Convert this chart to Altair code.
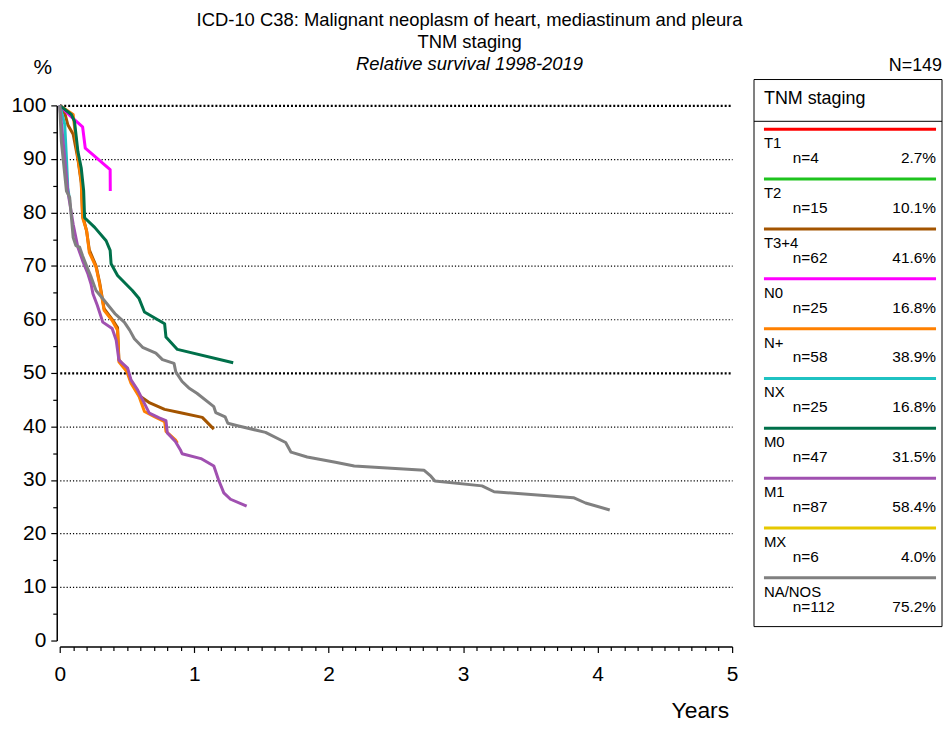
import altair as alt
import pandas as pd

FONT = "Liberation Sans"

# ---- legend data ----
stages = ["T1", "T2", "T3+4", "N0", "N+", "NX", "M0", "M1", "MX", "NA/NOS"]
counts = [4, 15, 62, 25, 58, 25, 47, 87, 6, 112]
pcts = ["2.7%", "10.1%", "41.6%", "16.8%", "38.9%", "16.8%", "31.5%", "58.4%", "4.0%", "75.2%"]
colors = ["#ff0000", "#1ec31e", "#a35400", "#ff00ff", "#ff8000", "#1fc2c2",
          "#00704a", "#a050b0", "#e6c800", "#808080"]

# ---- survival curves (years, relative survival %) ----
t34_t = [0, 0.04, 0.06, 0.1, 0.135, 0.16, 0.17, 0.2, 0.22, 0.27, 0.296, 0.33, 0.39, 0.43,
         0.44, 0.5, 0.53, 0.59, 0.67, 0.78, 0.89, 1.06, 1.146]
t34_v = [100, 98.3, 96.4, 94.6, 90, 85.5, 79.5, 76.5, 73, 70, 67, 62, 60, 58.5,
         52.5, 50.5, 48.5, 45.8, 44.4, 43.2, 42.6, 41.7, 39.5]

n0_t = [0, 0.08, 0.17, 0.19, 0.375, 0.376]
n0_v = [100, 98, 96, 92, 88, 84]

np_t = [0, 0.1, 0.135, 0.16, 0.17, 0.2, 0.22, 0.27, 0.296, 0.33, 0.39, 0.43, 0.44, 0.5,
        0.53, 0.59, 0.63, 0.70, 0.78, 0.79, 0.86, 0.875]
np_v = [100, 98.3, 90.2, 85.9, 79, 76.6, 72.5, 69.8, 66.7, 61.7, 59.8, 58, 52.1, 50.2,
        48.1, 45.6, 42.8, 41.9, 40.9, 39.1, 37.5, 36.9]

nx_t = [0, 0.037, 0.05, 0.06, 0.075]
nx_v = [100, 96.5, 90.2, 84.6, 82]

m0_t = [0, 0.086, 0.11, 0.135, 0.16, 0.178, 0.185, 0.26, 0.345, 0.375, 0.382, 0.43, 0.54,
        0.59, 0.63, 0.78, 0.79, 0.875, 1.29]
m0_v = [100, 98.3, 97, 91.4, 88.3, 84, 79, 77.2, 74.7, 72.9, 70.4, 68.2, 65.4,
        63.9, 61.4, 59.2, 56.7, 54.4, 51.9]

m1_t = [0, 0.03, 0.06, 0.1, 0.135, 0.17, 0.21, 0.234, 0.247, 0.28, 0.32, 0.39, 0.42, 0.44,
        0.505, 0.53, 0.58, 0.666, 0.74, 0.79, 0.8, 0.86, 0.9, 0.91, 1.05, 1.146, 1.18,
        1.22, 1.27, 1.39]
m1_v = [100, 92, 84, 77.8, 73.5, 71, 68.5, 66.5, 64.8, 62.6, 59.5, 58.3, 56.1, 52.4,
        50.9, 48.7, 46.8, 42.5, 41.6, 41.1, 38.8, 37.2, 35.5, 34.9, 34, 32.6, 30.1,
        27.6, 26.4, 25.1]

na_t = [0, 0.012, 0.05, 0.074, 0.1, 0.12, 0.148, 0.17, 0.2, 0.234, 0.27, 0.33, 0.41, 0.48,
        0.52, 0.555, 0.616, 0.715, 0.764, 0.85, 0.863, 0.91, 0.96, 1.02, 1.146, 1.16,
        1.23, 1.25, 1.33, 1.53, 1.68, 1.72, 1.84, 2.05, 2.19, 2.71, 2.76, 2.79, 3.14,
        3.23, 3.82, 3.91, 4.09]
na_v = [100, 93.3, 84, 82.8, 75.3, 73.8, 73.5, 71.9, 70, 67.9, 65.4, 63.6, 61.1, 59.5,
        58, 56.4, 54.8, 53.7, 52.5, 51.8, 50.2, 48.4, 47.2, 46.2, 43.7, 42.6,
        41.8, 40.6, 40.1, 38.9, 37, 35.2, 34.3, 33.3, 32.6, 31.8, 30.7, 29.8, 28.9,
        27.8, 26.7, 25.7, 24.4]

curves = {
    "T3+4": (t34_t, t34_v),
    "N0": (n0_t, n0_v),
    "N+": (np_t, np_v),
    "NX": (nx_t, nx_v),
    "M0": (m0_t, m0_v),
    "M1": (m1_t, m1_v),
    "NA/NOS": (na_t, na_v),
}

x_ticks = [round(i * 0.1, 1) for i in range(51)]
y_ticks = list(range(0, 101, 5))

is_int = "abs(datum.value - round(datum.value)) < 0.001"
x_axis = alt.Axis(
    values=x_ticks, title=None, grid=False, offset=6,
    labelExpr=f"{is_int} ? format(datum.value, 'd') : ''",
    tickSize={"condition": {"test": is_int, "value": 6}, "value": 4},
    labelFontSize=21, labelPadding=11, labelFlush=False, labelOverlap=False,
    labelFont=FONT, labelColor="black", domainColor="black", tickColor="black",
    domainWidth=1.5, tickWidth=1.2,
)
is10 = "datum.value % 10 == 0"
y_axis = alt.Axis(
    values=y_ticks, title=None, offset=3,
    labelExpr=f"{is10} ? datum.label : ''",
    tickSize={"condition": {"test": is10, "value": 6}, "value": 4},
    labelFontSize=21, labelPadding=5, labelOverlap=False, labelFont=FONT,
    labelColor="black", domainColor="black", tickColor="black",
    domainWidth=1.5, tickWidth=1.2,
    grid=True, gridColor="black",
    gridOpacity={"condition": {"test": f"{is10} && datum.value > 0", "value": 1}, "value": 0},
    gridWidth={"condition": {"test": "datum.value == 50 || datum.value == 100", "value": 2.2}, "value": 1.2},
    gridDash={"condition": {"test": "datum.value == 50 || datum.value == 100", "value": [2, 2]}, "value": [1.2, 2]},
)

xs = alt.Scale(domain=[0, 5], nice=False, zero=False)
ys = alt.Scale(domain=[0, 100], nice=False, zero=False)

curve_layers = []
for s in stages:
    if s not in curves:
        continue
    t, v = curves[s]
    df = pd.DataFrame({"t": t, "v": v, "i": list(range(len(t)))})
    col = colors[stages.index(s)]
    curve_layers.append(
        alt.Chart(df).mark_line(color=col, strokeWidth=3, strokeJoin="round").encode(
            x=alt.X("t:Q", scale=xs, axis=x_axis),
            y=alt.Y("v:Q", scale=ys, axis=y_axis),
            order="i:Q",
        )
    )
curves_chart = alt.layer(*curve_layers)

one = pd.DataFrame({"a": [0]})


def txt(text, x, y, size, align="left", style="normal"):
    return alt.Chart(one).mark_text(
        align=align, baseline="alphabetic", fontSize=size, font=FONT,
        fontStyle=style, color="black"
    ).encode(x=alt.value(x), y=alt.value(y), text=alt.value(text))


titles = [
    txt("ICD-10 C38: Malignant neoplasm of heart, mediastinum and pleura", 412, -80, 18.5, "center"),
    txt("TNM staging", 412, -58, 18.5, "center"),
    txt("Relative survival 1998-2019", 412, -36, 18.5, "center", "italic"),
    txt("%", -17, -32, 21, "center"),
    txt("N=149", 887, -35, 18, "right"),
    txt("Years", 673, 616, 23, "right"),
]

# ---- legend box ----
box = alt.Chart(one).mark_rect(fill="white", stroke="black", strokeWidth=1).encode(
    x=alt.value(698), x2=alt.value(887), y=alt.value(-26), y2=alt.value(524)
)
sep = alt.Chart(one).mark_rule(color="black", strokeWidth=1).encode(
    x=alt.value(698), x2=alt.value(887), y=alt.value(16)
)
header = txt("TNM staging", 708, -1, 18)

leg = pd.DataFrame({
    "stage": stages,
    "idx": list(range(len(stages))),
    "n": ["n=" + str(c) for c in counts],
    "pct": pcts,
})
ly = alt.Y("idx:Q", scale=alt.Scale(domain=[0, 9], range=[24, 475], nice=False, zero=False), axis=None)
leg_rules = alt.Chart(leg).mark_rule(strokeWidth=3).encode(
    x=alt.value(708), x2=alt.value(881), y=ly,
    color=alt.Color("stage:N", scale=alt.Scale(domain=stages, range=colors), legend=None),
)
leg_lab = alt.Chart(leg).mark_text(
    align="left", baseline="alphabetic", dy=19, fontSize=15, font=FONT, color="black"
).encode(x=alt.value(708), y=ly, text="stage:N")
leg_n = alt.Chart(leg).mark_text(
    align="left", baseline="alphabetic", dy=34, fontSize=15.5, font=FONT, color="black"
).encode(x=alt.value(737), y=ly, text="n:N")
leg_p = alt.Chart(leg).mark_text(
    align="right", baseline="alphabetic", dy=34, fontSize=15.5, font=FONT, color="black"
).encode(x=alt.value(881), y=ly, text="pct:N")

chart = alt.layer(
    box, sep, header, leg_rules, leg_lab, leg_n, leg_p, *titles, curves_chart
).resolve_scale(
    x="independent", y="independent", color="independent"
).properties(
    width=676, height=538,
    padding={"left": 52, "top": 96, "right": 212, "bottom": 81},
    autosize=alt.AutoSizeParams(type="none"),
    background="white",
).configure_view(stroke=None)

chart.save("out.html", embed_options={"renderer": "svg", "actions": False})
